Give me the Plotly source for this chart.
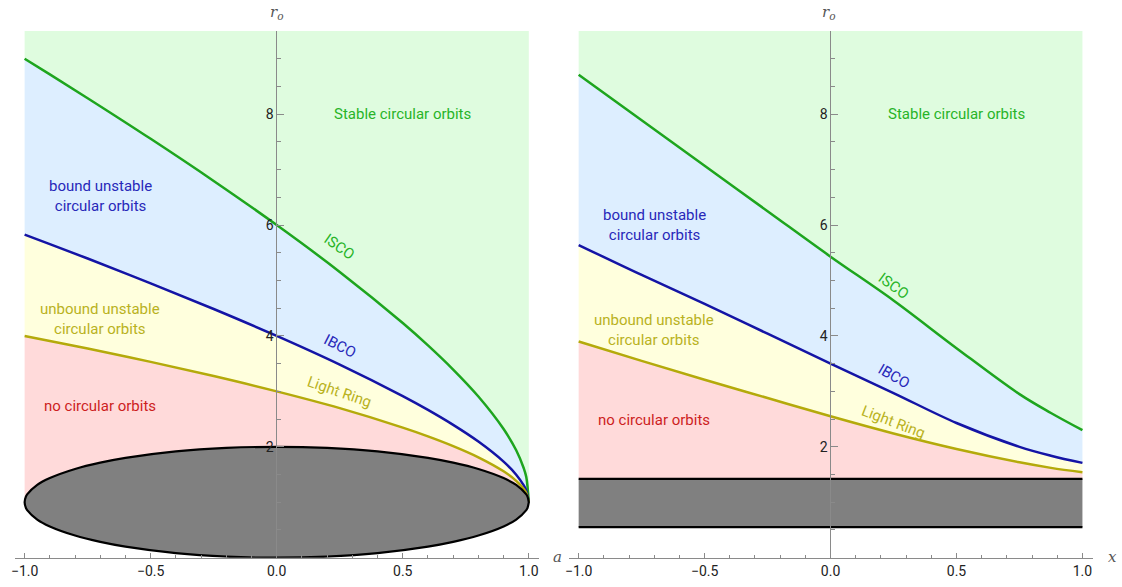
import plotly.graph_objects as go

# ---------------- data: left panel (spin a) ----------------
a_vals = [-1, -0.9, -0.75, -0.5, -0.25, 0, 0.25, 0.5, 0.6, 0.7, 0.8, 0.9, 0.95, 0.98, 0.99, 1]
isco_left = [9.0, 8.717, 8.288, 7.555, 6.795, 6.0, 5.155, 4.233, 3.829, 3.393, 2.907, 2.321, 1.937, 1.614, 1.4545, 1.0]
ibco_left = [5.828, 5.657, 5.396, 4.949, 4.486, 4.0, 3.482, 2.914, 2.665, 2.395, 2.094, 1.732, 1.497, 1.303, 1.21, 1.0]
lr_left = [4.0, 3.910, 3.772, 3.532, 3.276, 3.0, 2.697, 2.347, 2.189, 2.013, 1.811, 1.558, 1.386, 1.240, 1.168, 1.0]

a_hor = [-1, -0.995, -0.99, -0.95, -0.9, -0.8, -0.7, -0.6, -0.4, -0.2, 0, 0.2, 0.4, 0.6, 0.7, 0.8, 0.9, 0.95, 0.99, 0.995, 1]
hor_outer = [1.0, 1.100, 1.141, 1.312, 1.436, 1.6, 1.714, 1.8, 1.917, 1.980, 2.0, 1.980, 1.917, 1.8, 1.714, 1.6, 1.436, 1.312, 1.141, 1.100, 1.0]
hor_inner = [1.0, 0.900, 0.859, 0.688, 0.564, 0.4, 0.286, 0.2, 0.083, 0.020, 0.0, 0.020, 0.083, 0.2, 0.286, 0.4, 0.564, 0.688, 0.859, 0.900, 1.0]

# ---------------- data: right panel (parameter x) ----------------
x_vals = [-1, -0.75, -0.5, -0.25, 0, 0.25, 0.5, 0.75, 0.875, 1]
isco_right = [8.71, 7.89, 7.07, 6.25, 5.43, 4.64, 3.78, 2.95, 2.61, 2.30]
ibco_right = [5.64, 5.10, 4.58, 4.04, 3.50, 2.97, 2.43, 2.00, 1.84, 1.71]
lr_right = [3.90, 3.55, 3.21, 2.88, 2.55, 2.24, 1.96, 1.72, 1.62, 1.54]
band_top = 1.42
band_bottom = 0.55

y_top = 9.5

# ---------------- styles ----------------
C_GREEN_FILL = "rgb(223,252,223)"
C_BLUE_FILL = "rgb(221,238,255)"
C_YEL_FILL = "rgb(255,255,221)"
C_PINK_FILL = "rgb(255,218,218)"
C_GRAY = "rgb(128,128,128)"
C_ISCO = "rgb(30,165,30)"
C_IBCO = "rgb(20,20,165)"
C_LR = "rgb(180,170,10)"
AX = "#8a8a8a"

fig = go.Figure()


def poly(xs, ys, color, xa, ya):
    fig.add_trace(go.Scatter(x=xs, y=ys, fill="toself", fillcolor=color, mode="lines",
                             line=dict(width=0, color=color), hoverinfo="skip",
                             showlegend=False, xaxis=xa, yaxis=ya))


def curve(xs, ys, color, xa, ya, w=2.5, shape="spline"):
    fig.add_trace(go.Scatter(x=xs, y=ys, mode="lines", line=dict(color=color, width=w, shape=shape),
                             hoverinfo="skip", showlegend=False, xaxis=xa, yaxis=ya))


def rev(l):
    return list(reversed(l))


# left panel fills
poly(a_vals + [1, -1], isco_left + [y_top, y_top], C_GREEN_FILL, "x", "y")
poly(a_vals + rev(a_vals), isco_left + rev(ibco_left), C_BLUE_FILL, "x", "y")
poly(a_vals + rev(a_vals), ibco_left + rev(lr_left), C_YEL_FILL, "x", "y")
poly(a_vals + rev(a_hor), lr_left + rev(hor_outer), C_PINK_FILL, "x", "y")
curve(a_vals, isco_left, C_ISCO, "x", "y")
curve(a_vals, ibco_left, C_IBCO, "x", "y")
curve(a_vals, lr_left, C_LR, "x", "y")
fig.add_trace(go.Scatter(x=a_hor + rev(a_hor), y=hor_outer + rev(hor_inner), fill="toself",
                         fillcolor=C_GRAY, mode="lines", line=dict(color="black", width=2.2, shape="spline"),
                         hoverinfo="skip", showlegend=False, xaxis="x", yaxis="y"))

# right panel fills
poly(x_vals + [1, -1], isco_right + [y_top, y_top], C_GREEN_FILL, "x2", "y2")
poly(x_vals + rev(x_vals), isco_right + rev(ibco_right), C_BLUE_FILL, "x2", "y2")
poly(x_vals + rev(x_vals), ibco_right + rev(lr_right), C_YEL_FILL, "x2", "y2")
poly(x_vals + [1, -1], lr_right + [band_top, band_top], C_PINK_FILL, "x2", "y2")
poly([-1, 1, 1, -1], [band_bottom, band_bottom, band_top, band_top], C_GRAY, "x2", "y2")
curve([-1, 1], [band_top, band_top], "black", "x2", "y2", 2.2, "linear")
curve([-1, 1], [band_bottom, band_bottom], "black", "x2", "y2", 2.2, "linear")
curve(x_vals, isco_right, C_ISCO, "x2", "y2")
curve(x_vals, ibco_right, C_IBCO, "x2", "y2")
curve(x_vals, lr_right, C_LR, "x2", "y2")

# ---------------- axes ----------------
W, H = 1122, 587
ydom = [1 - 557.7 / H, 1 - 31 / H]
tickfont = dict(family="Roboto, Open Sans, sans-serif", size=14, color="#222222")
minor_x = dict(tickvals=[round(-1 + 0.1 * i, 1) for i in range(21)], ticks="inside", ticklen=3,
               tickcolor=AX, showgrid=False)
minor_y = dict(tickvals=[0.5 * i for i in range(1, 20)], ticks="inside", ticklen=4,
               tickcolor=AX, showgrid=False)
xcommon = dict(range=[-1.04, 1.04], showgrid=False, zeroline=False, showline=True, linecolor=AX,
               linewidth=1, ticks="inside", ticklen=5, tickcolor=AX, tickvals=[-1, -0.5, 0, 0.5, 1],
               tickformat=".1f", tickfont=tickfont, minor=minor_x, fixedrange=True)
ycommon = dict(range=[0, y_top], domain=ydom, showgrid=False, zeroline=False, showline=True,
               linecolor=AX, linewidth=1, ticks="inside", ticklen=7, tickcolor=AX,
               tickvals=[2, 4, 6, 8], tickfont=tickfont, minor=minor_y, anchor="free", fixedrange=True)

fig.update_layout(
    width=W, height=H, autosize=False,
    margin=dict(l=0, r=0, t=0, b=0),
    paper_bgcolor="white", plot_bgcolor="rgba(0,0,0,0)",
    xaxis=dict(domain=[10.58 / W, 536.8 / W], anchor="y", **xcommon),
    yaxis=dict(position=273.3 / W, **ycommon),
    xaxis2=dict(domain=[566.6 / W, 1092.4 / W], anchor="y2", **xcommon),
    yaxis2=dict(position=829.3 / W, **ycommon),
)

# ---------------- annotations ----------------
lab_font = "Roboto, Open Sans, sans-serif"
anns = []


def txt(x, y, s, color, xr, yr, angle=0, size=15):
    anns.append(dict(x=x, y=y, xref=xr, yref=yr, text=s, showarrow=False, textangle=angle,
                     font=dict(family=lab_font, size=size, color=color), align="center"))


C_T_GREEN = "rgb(40,180,40)"
C_T_BLUE = "rgb(40,40,185)"
C_T_YEL = "rgb(185,178,30)"
C_T_RED = "rgb(205,30,30)"

# left panel
txt(0.5, 8.0, "Stable circular orbits", C_T_GREEN, "x", "y")
txt(-0.70, 6.53, "bound unstable<br>circular orbits", C_T_BLUE, "x", "y")
txt(-0.70, 4.31, "unbound unstable<br>circular orbits", C_T_YEL, "x", "y")
txt(-0.70, 2.73, "no circular orbits", C_T_RED, "x", "y")
txt(0.25, 5.61, "ISCO", C_T_GREEN, "x", "y", 35)
txt(0.25, 3.81, "IBCO", C_T_BLUE, "x", "y", 27)
txt(0.25, 2.99, "Light Ring", C_T_YEL, "x", "y", 19)
# right panel
txt(0.5, 8.0, "Stable circular orbits", C_T_GREEN, "x2", "y2")
txt(-0.70, 6.0, "bound unstable<br>circular orbits", C_T_BLUE, "x2", "y2")
txt(-0.70, 4.10, "unbound unstable<br>circular orbits", C_T_YEL, "x2", "y2")
txt(-0.70, 2.49, "no circular orbits", C_T_RED, "x2", "y2")
txt(0.25, 4.90, "ISCO", C_T_GREEN, "x2", "y2", 36)
txt(0.25, 3.27, "IBCO", C_T_BLUE, "x2", "y2", 30)
txt(0.25, 2.45, "Light Ring", C_T_YEL, "x2", "y2", 21)

# axis labels
serif = dict(family="DejaVu Serif, Liberation Serif, serif", size=15, color="#555555")
for px, py, s in [(274, 12, "<i>r</i><sub><i>o</i></sub>"), (828, 12, "<i>r</i><sub><i>o</i></sub>"),
                  (555, 557, "<i>a</i>"), (1112, 557, "<i>x</i>")]:
    anns.append(dict(x=px / W, y=1 - py / H, xref="paper", yref="paper", text=s, showarrow=False,
                     font=serif, xanchor="center", yanchor="middle"))

fig.update_layout(annotations=anns)

fig.write_html("out.html", config={"displayModeBar": False},
               post_script="document.body.style.margin='0';")
